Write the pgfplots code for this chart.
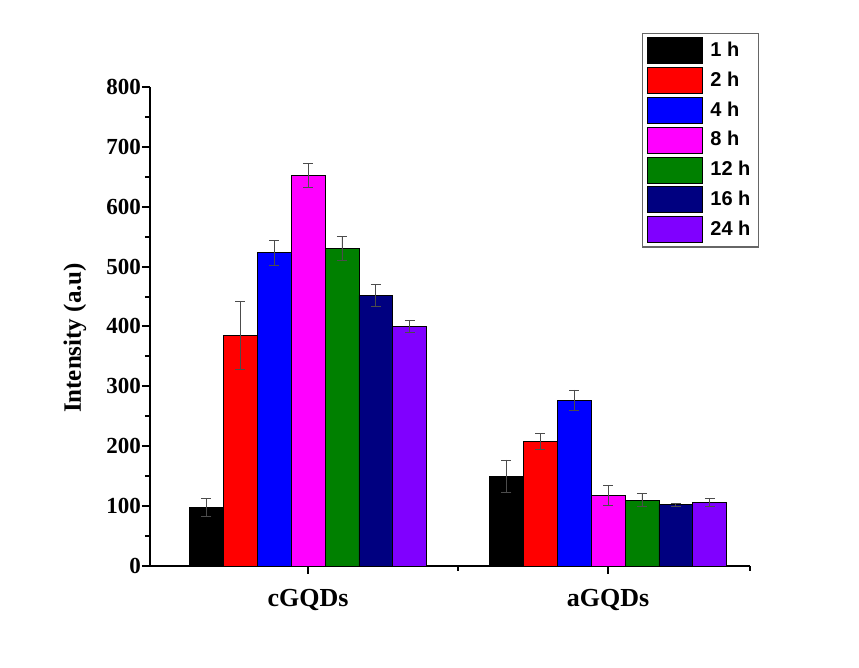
\documentclass[border=0pt]{standalone}
\usepackage{fontspec}
\setmainfont{Liberation Serif}
\newfontfamily\legfont{Liberation Sans}
\usepackage{pgfplots}
\pgfplotsset{compat=1.18}

\definecolor{cNavy}{HTML}{000080}
\definecolor{cGreen}{HTML}{008000}
\definecolor{cViolet}{HTML}{8000FF}
\definecolor{cMagenta}{HTML}{FF00FF}

\pgfplotsset{
  eb/.style={
    error bars/.cd, y dir=both, y explicit,
    error bar style={line width=0.4pt, black!70},
    error mark options={rotate=90, mark size=2.5pt, line width=0.4pt, black!70}
  },
}

\begin{document}
\begin{tikzpicture}
\begin{axis}[
    scale only axis,
    width=300pt, height=239.5pt,
    ybar=0pt, bar width=0.113,
    xmin=0.473, xmax=2.473, ymin=0, ymax=800,
    axis x line*=bottom, axis y line*=left,
    axis line style={line width=1pt},
    xtick={1,2}, xticklabels={cGQDs,aGQDs},
    minor xtick={1.5,2.473},
    ytick={0,100,...,800}, minor ytick={50,150,...,750},
    tick align=outside,
    major tick length=4pt, minor tick length=2.5pt,
    every tick/.style={black, line width=1pt},
    /pgf/number format/assume math mode=true,
    yticklabel style={font=\fontsize{11.5}{13}\selectfont\bfseries, xshift=3pt},
    xticklabel style={font=\fontsize{13}{15}\selectfont\bfseries, yshift=-4pt},
    ylabel={Intensity (a.u)},
    ylabel style={font=\fontsize{12.5}{14}\selectfont\bfseries,
      at={(rel axis cs:-0.125,0.476)}, anchor=center},
    legend style={at={(rel axis cs:0.82,1.113)}, anchor=north west,
      draw=black!60, line width=0.6pt, inner sep=2pt, row sep=1.5pt,
      column sep=2pt,
      font=\legfont\fontsize{10}{12}\selectfont\bfseries},
    legend cell align=left,
    legend image code/.code={\draw[#1, draw=black, line width=0.4pt] (0pt,-6.5pt) rectangle (27.5pt,6.5pt);},
    clip=false,
  ]
  \addplot[fill=black, draw=black, line width=0.4pt, eb] coordinates {
    (1,98) +- (0,15)
    (2,150) +- (0,27)
  };
  \addlegendentry{1 h}
  \addplot[fill=red, draw=black, line width=0.4pt, eb] coordinates {
    (1,385) +- (0,57)
    (2,208) +- (0,14)
  };
  \addlegendentry{2 h}
  \addplot[fill=blue, draw=black, line width=0.4pt, eb] coordinates {
    (1,523) +- (0,21)
    (2,277) +- (0,17)
  };
  \addlegendentry{4 h}
  \addplot[fill=cMagenta, draw=black, line width=0.4pt, eb] coordinates {
    (1,652) +- (0,20)
    (2,118) +- (0,17)
  };
  \addlegendentry{8 h}
  \addplot[fill=cGreen, draw=black, line width=0.4pt, eb] coordinates {
    (1,531) +- (0,20)
    (2,110) +- (0,11)
  };
  \addlegendentry{12 h}
  \addplot[fill=cNavy, draw=black, line width=0.4pt, eb] coordinates {
    (1,452) +- (0,18)
    (2,102) +- (0,3)
  };
  \addlegendentry{16 h}
  \addplot[fill=cViolet, draw=black, line width=0.4pt, eb] coordinates {
    (1,400) +- (0,10)
    (2,106) +- (0,6)
  };
  \addlegendentry{24 h}
  \path (rel axis cs:-0.25,-0.2129) rectangle (rel axis cs:1.1817,1.1816);
\end{axis}
\end{tikzpicture}
\end{document}
